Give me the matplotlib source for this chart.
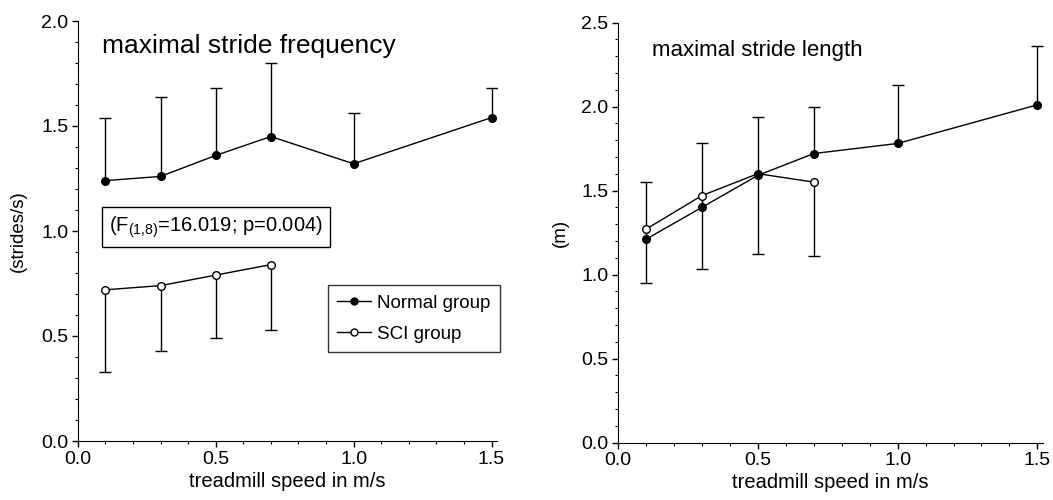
import numpy as np
import matplotlib.pyplot as plt
from matplotlib.lines import Line2D
from matplotlib.ticker import MultipleLocator, FormatStrFormatter

plt.rcParams['font.family'] = ['Liberation Sans', 'DejaVu Sans']
plt.rcParams['mathtext.fontset'] = 'custom'
plt.rcParams['mathtext.rm'] = 'Liberation Sans'

speed_normal = np.array([0.1, 0.3, 0.5, 0.7, 1.0, 1.5])
speed_sci = np.array([0.1, 0.3, 0.5, 0.7])

# stride frequency (strides/s); normal error drawn up, SCI error drawn down
freq_normal = np.array([1.24, 1.26, 1.36, 1.45, 1.32, 1.54])
freq_normal_err = np.array([0.30, 0.38, 0.32, 0.35, 0.24, 0.14])
freq_sci = np.array([0.72, 0.74, 0.79, 0.84])
freq_sci_err = np.array([0.39, 0.31, 0.30, 0.31])

# stride length (m)
len_normal = np.array([1.21, 1.40, 1.59, 1.72, 1.78, 2.01])
len_normal_err = np.array([0.34, 0.38, 0.35, 0.28, 0.35, 0.35])
len_sci = np.array([1.27, 1.47, 1.60, 1.55])
len_sci_err = np.array([0.32, 0.44, 0.48, 0.44])

fig = plt.figure(figsize=(10.53, 5.0), dpi=100)
ax1 = fig.add_axes([0.074, 0.118, 0.398, 0.84])
ax2 = fig.add_axes([0.587, 0.115, 0.4035, 0.84])

panels = [(ax1, freq_normal, freq_normal_err, freq_sci, freq_sci_err),
          (ax2, len_normal, len_normal_err, len_sci, len_sci_err)]
for ax, yn, yne, ys, yse in panels:
    # error bars: normal group upwards, SCI group downwards
    ax.vlines(speed_normal, yn, yn + yne, color='k', lw=1.0, zorder=2)
    ax.plot(speed_normal, yn + yne, '_', color='k', ms=8, mew=1.0, zorder=2)
    ax.vlines(speed_sci, ys - yse, ys, color='k', lw=1.0, zorder=2)
    ax.plot(speed_sci, ys - yse, '_', color='k', ms=8, mew=1.0, zorder=2)
    ax.plot(speed_sci, ys, 'o-', color='k', mfc='white', mec='k', ms=5.5,
            mew=1.0, lw=1.0, zorder=3)
    ax.plot(speed_normal, yn, 'o-', color='k', mfc='k', mec='k', ms=5.5,
            mew=1.0, lw=1.0, zorder=4)
    ax.set_xlim(0, 1.52)
    ax.xaxis.set_major_locator(MultipleLocator(0.5))
    ax.xaxis.set_minor_locator(MultipleLocator(0.1))
    ax.yaxis.set_major_locator(MultipleLocator(0.5))
    ax.yaxis.set_minor_locator(MultipleLocator(0.1))
    ax.xaxis.set_major_formatter(FormatStrFormatter('%.1f'))
    ax.yaxis.set_major_formatter(FormatStrFormatter('%.1f'))
    ax.spines['top'].set_visible(False)
    ax.spines['right'].set_visible(False)
    ax.tick_params(which='major', length=4.5, width=1, labelsize=14,
                   direction='out', pad=2.5)
    ax.tick_params(which='minor', length=2.5, width=0.8, direction='out')
    ax.set_xlabel('treadmill speed in m/s', fontsize=14.5, labelpad=3)

ax1.set_ylim(0, 2.0)
ax2.set_ylim(0, 2.5)
ax1.set_ylabel('(strides/s)', fontsize=13.5, labelpad=10)
ax2.set_ylabel('(m)', fontsize=13.5, labelpad=9)

ax1.text(0.087, 1.848, 'maximal stride frequency', fontsize=19, va='baseline', ha='left')
ax2.text(0.12, 2.298, 'maximal stride length', fontsize=16, va='baseline', ha='left')

ax1.text(0.5, 1.02, r'(F$_{\mathregular{(1{,}8)}}$=16.019; p=0.004)', fontsize=14.5,
         ha='center', va='center',
         bbox=dict(boxstyle='square,pad=0.35', fc='white', ec='k', lw=1.0))

handles = [Line2D([], [], color='k', marker='o', mfc='k', ms=5, lw=1.0),
           Line2D([], [], color='k', marker='o', mfc='white', ms=5, lw=1.0)]
leg = ax1.legend(handles, ['Normal group', 'SCI group'], loc='upper left',
                 bbox_to_anchor=(0.597, 0.371), borderaxespad=0,
                 fontsize=13.5, frameon=True, fancybox=False, edgecolor='k',
                 handlelength=1.8, handletextpad=0.3, borderpad=0.5,
                 labelspacing=0.75)
leg.get_frame().set_linewidth(1.0)

fig.savefig('out.png', dpi=100)
